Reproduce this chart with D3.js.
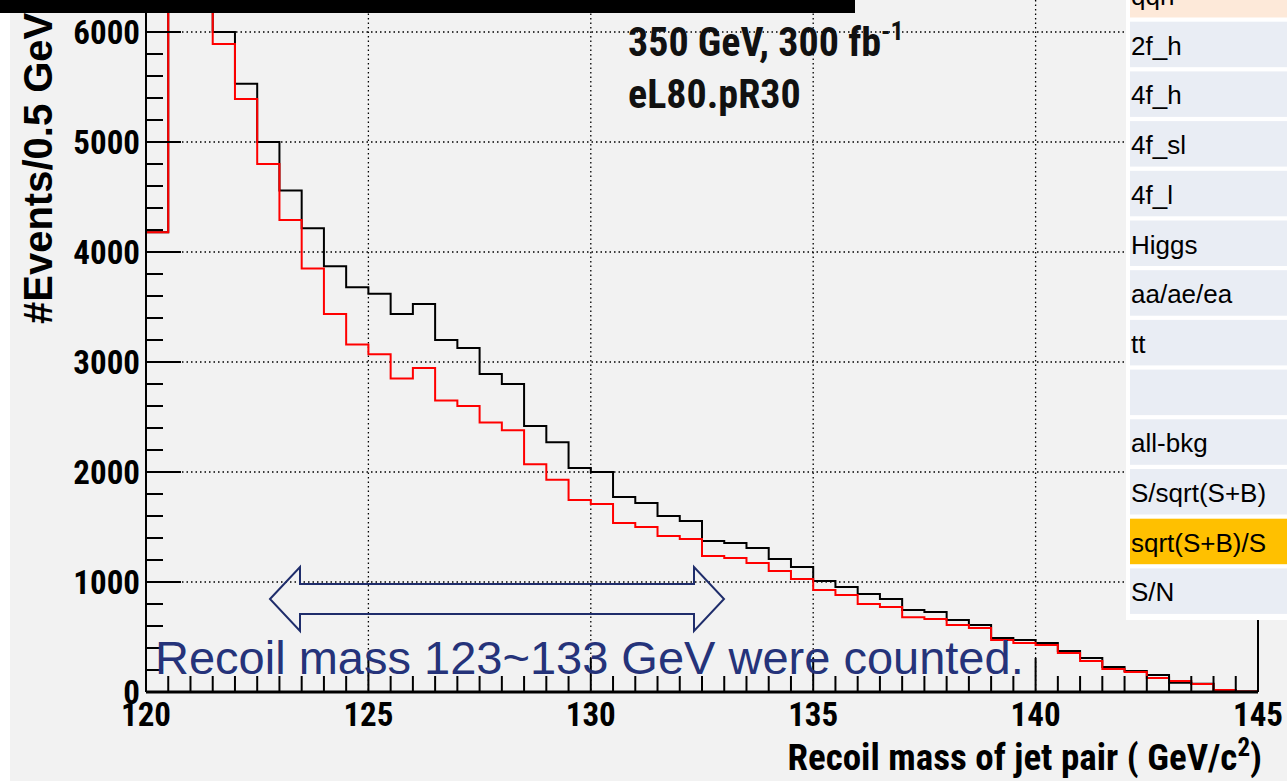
<!DOCTYPE html>
<html><head><meta charset="utf-8">
<script src="https://cdn.jsdelivr.net/npm/d3@7"></script>
<style>body{margin:0;background:#fff}svg{display:block;font-family:Arial,"Liberation Sans",sans-serif}
.nb{font-family:"Liberation Sans Narrow","Arial Narrow","Roboto Condensed",Arial,sans-serif;font-weight:bold}</style>
</head><body><svg id="c" width="1287" height="781"></svg>
<script>
var binStart = 120, binWidth = 0.5;
var blackCounts = [4180, 9000, 7500, 6000, 5530, 5000, 4560, 4215, 3870, 3680, 3620, 3436, 3527, 3200, 3127, 2890, 2800, 2418, 2270, 2036, 2000, 1773, 1718, 1600, 1555, 1373, 1355, 1309, 1209, 1136, 1009, 955, 891, 845, 745, 727, 655, 609, 490, 473, 445, 373, 309, 227, 191, 155, 85, 75, 18, 4];
var redCounts = [4180, 9000, 7500, 5890, 5390, 4800, 4290, 3850, 3436, 3160, 3070, 2850, 2945, 2650, 2600, 2450, 2380, 2070, 1930, 1745, 1710, 1536, 1500, 1418, 1390, 1236, 1218, 1173, 1100, 1027, 927, 882, 800, 773, 680, 664, 609, 582, 473, 445, 427, 355, 282, 209, 182, 127, 100, 73, 18, 4];
var xTicks = [120, 125, 130, 135, 140, 145];
var yTicks = [0, 1000, 2000, 3000, 4000, 5000, 6000];
var tableRows = ["qqh", "2f_h", "4f_h", "4f_sl", "4f_l", "Higgs", "aa/ae/ea", "tt", "", "all-bkg", "S/sqrt(S+B)", "sqrt(S+B)/S", "S/N"];
var rowFill = {"qqh": "#fde9d9", "sqrt(S+B)/S": "#ffc000"};

var svg = d3.select("#c");
svg.append("rect").attr("x", 10).attr("y", 0).attr("width", 1277).attr("height", 781).attr("fill", "#f2f2f2");

var x = d3.scaleLinear().domain([120, 145]).range([146, 1258]);
var y = d3.scaleLinear().domain([0, 6000]).range([692, 32]);
var plotTop = 0;

// grid
svg.append("g").selectAll("line").data([125, 130, 135, 140]).join("line")
  .attr("x1", d => x(d)).attr("x2", d => x(d)).attr("y1", plotTop).attr("y2", y(0))
  .attr("stroke", "#000").attr("stroke-width", 1.3).attr("stroke-dasharray", "1.5,3");
svg.append("g").selectAll("line").data([1000, 2000, 3000, 4000, 5000, 6000]).join("line")
  .attr("x1", x(120)).attr("x2", x(145)).attr("y1", d => y(d)).attr("y2", d => y(d))
  .attr("stroke", "#000").attr("stroke-width", 1.3).attr("stroke-dasharray", "1.5,3");

// histograms
svg.append("clipPath").attr("id", "pc").append("rect").attr("x", x(120)).attr("y", plotTop).attr("width", x(145) - x(120)).attr("height", y(0) - plotTop);
function stepPath(counts) {
  var pts = [[x(binStart), y(0)]];
  counts.forEach(function(v, i) {
    pts.push([x(binStart + i * binWidth), y(v)]);
    pts.push([x(binStart + (i + 1) * binWidth), y(v)]);
  });
  pts.push([x(binStart + counts.length * binWidth), y(0)]);
  return d3.line()(pts);
}
var hg = svg.append("g").attr("clip-path", "url(#pc)");
hg.append("path").attr("d", stepPath(blackCounts)).attr("fill", "none").attr("stroke", "#000").attr("stroke-width", 2);
hg.append("path").attr("d", stepPath(redCounts)).attr("fill", "none").attr("stroke", "#ff0000").attr("stroke-width", 2);

// axes frame
svg.append("line").attr("x1", x(120)).attr("x2", x(145)).attr("y1", y(0)).attr("y2", y(0)).attr("stroke", "#000").attr("stroke-width", 3);
svg.append("line").attr("x1", x(120)).attr("x2", x(120)).attr("y1", plotTop).attr("y2", y(0)).attr("stroke", "#000").attr("stroke-width", 2);
svg.append("line").attr("x1", x(145)).attr("x2", x(145)).attr("y1", plotTop).attr("y2", y(0)).attr("stroke", "#000").attr("stroke-width", 2);

// x ticks
var xMinor = d3.range(120, 145.01, 0.5);
svg.append("g").selectAll("line").data(xMinor).join("line")
  .attr("x1", d => x(d)).attr("x2", d => x(d)).attr("y1", y(0))
  .attr("y2", d => y(0) - (d % 5 === 0 ? 34 : 16)).attr("stroke", "#000").attr("stroke-width", 2);
svg.append("g").selectAll("text").data(xTicks).join("text").attr("class", "nb")
  .attr("x", d => x(d)).attr("y", 726).attr("text-anchor", "middle")
  .attr("font-size", 33).text(d => d);

// y ticks
var yMinor = d3.range(0, 6301, 200);
svg.append("g").selectAll("line").data(yMinor).join("line")
  .attr("x1", x(120)).attr("x2", d => x(120) + (d % 1000 === 0 ? 35 : 17))
  .attr("y1", d => y(d)).attr("y2", d => y(d)).attr("stroke", "#000").attr("stroke-width", 2);
svg.append("g").selectAll("text").data(yTicks).join("text").attr("class", "nb")
  .attr("x", 140).attr("y", d => y(d) + 12).attr("text-anchor", "end")
  .attr("font-size", 33).text(d => d);

// axis titles
svg.append("text").attr("transform", "translate(52,324) rotate(-90)")
  .attr("font-size", 40).attr("font-weight", "bold").text("#Events/0.5 GeV");
var xt = svg.append("text").attr("class", "nb").attr("x", 1262).attr("y", 770).attr("text-anchor", "end")
  .attr("font-size", 37);
xt.append("tspan").text("Recoil mass of jet pair ( GeV/c");
xt.append("tspan").attr("dy", -14).attr("font-size", 25).text("2");
xt.append("tspan").attr("dy", 14).text(")");

// top black bar
svg.append("rect").attr("x", 0).attr("y", 0).attr("width", 855).attr("height", 13).attr("fill", "#000");

// annotation
var a1 = svg.append("text").attr("class", "nb").attr("x", 628).attr("y", 56).attr("font-size", 40).attr("fill", "#111");
a1.append("tspan").text("350 GeV, 300 fb");
a1.append("tspan").attr("dy", -16).attr("font-size", 26).text("-1");
svg.append("text").attr("class", "nb").attr("x", 628).attr("y", 108).attr("font-size", 40).attr("fill", "#111").text("eL80.pR30");

// table
var tg = svg.append("g");
tg.append("rect").attr("x", 1126).attr("y", 0).attr("width", 161).attr("height", 620).attr("fill", "#fff");
tableRows.forEach(function(r, i) {
  var y0 = -28 + i * 49.7;
  tg.append("rect").attr("x", 1130).attr("y", y0).attr("width", 157).attr("height", 45.5)
    .attr("fill", rowFill[r] || "#e9edf4");
  tg.append("text").attr("x", 1131).attr("y", y0 + 33).attr("font-size", 26).attr("fill", "#000").text(r);
});

// arrow
var ax1 = 270, ax2 = 724, ac = 599, sh = 15, hh = 32, hl = 30;
var arrowPts = [[ax1, ac], [ax1 + hl, ac - hh], [ax1 + hl, ac - sh], [ax2 - hl, ac - sh], [ax2 - hl, ac - hh], [ax2, ac],
  [ax2 - hl, ac + hh], [ax2 - hl, ac + sh], [ax1 + hl, ac + sh], [ax1 + hl, ac + hh]];
svg.append("path").attr("d", d3.line()(arrowPts) + "Z").attr("fill", "none").attr("stroke", "#1f2d6b").attr("stroke-width", 2);
svg.append("text").attr("x", 155).attr("y", 674).attr("font-size", 47).attr("fill", "#25337a").text("Recoil mass 123~133 GeV were counted.");
</script></body></html>
